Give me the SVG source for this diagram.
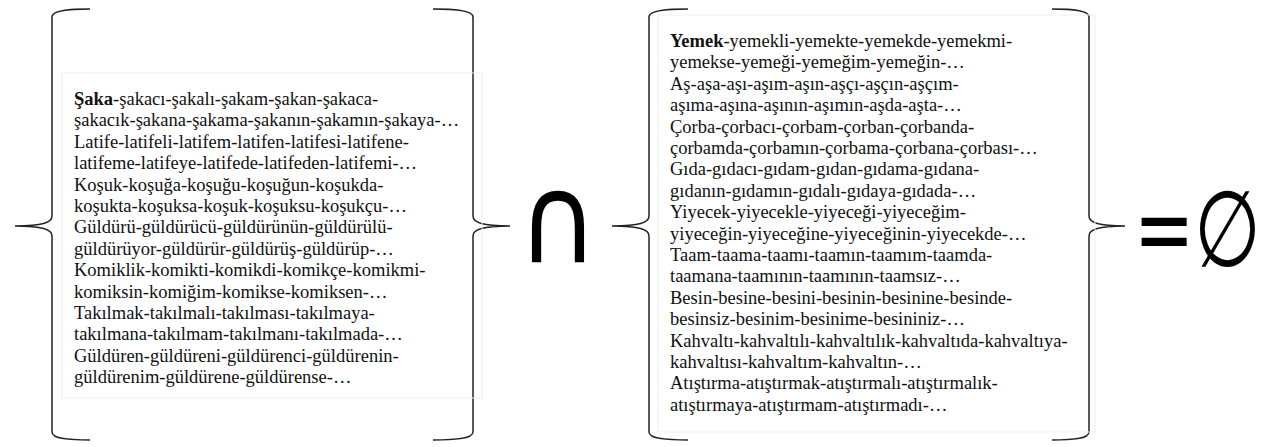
<svg xmlns="http://www.w3.org/2000/svg" width="1270" height="447" viewBox="0 0 1270 447">
  <style>
    .brace { fill: none; stroke: #222; stroke-width: 1.5; }
    .box { fill: none; stroke: #efefef; stroke-width: 1; }
    .words { font-family: "Liberation Serif", "Times New Roman", serif; font-size: 18.5px; fill: #111; }
    .words .head { font-weight: bold; }
    .sym { font-family: "DejaVu Sans", sans-serif; fill: #000; }
  </style>
  <rect width="1270" height="447" fill="#fff"/>

  <!-- braces around the two word sets -->
  <g id="braces">
    <!-- left set, opening brace -->
    <path class="brace" d="M90,9 C70,9 52,10 52,17 L52,216 C52,223 42,225.5 15,226 C42,226.5 52,229 52,236 L52,432 C52,439 70,440 90,440"/>
    <!-- left set, closing brace -->
    <path class="brace" d="M433,9 C453,9 473,10 473,17 L473,216 C473,223 483,225.5 510,226 C483,226.5 473,229 473,236 L473,432 C473,439 453,440 433,440"/>
    <!-- right set, opening brace -->
    <path class="brace" d="M688,9 C668,9 649,10 649,17 L649,216 C649,223 639,225.5 612,226 C639,226.5 649,229 649,236 L649,432 C649,439 668,440 688,440"/>
    <!-- right set, closing brace -->
    <path class="brace" d="M1052,9 C1072,9 1089,10 1089,17 L1089,216 C1089,223 1099,225.5 1125,226 C1099,226.5 1089,229 1089,236 L1089,432 C1089,439 1072,440 1052,440"/>
  </g>

  <!-- left word set -->
  <g id="set-saka">
    <rect class="box" x="62" y="73" width="420" height="325"/>
    <text class="words" x="74" y="105">
      <tspan x="74" y="105"><tspan class="head">Şaka</tspan>-şakacı-şakalı-şakam-şakan-şakaca-</tspan>
      <tspan x="74" dy="21.4">şakacık-şakana-şakama-şakanın-şakamın-şakaya-…</tspan>
      <tspan x="74" dy="21.4">Latife-latifeli-latifem-latifen-latifesi-latifene-</tspan>
      <tspan x="74" dy="21.4">latifeme-latifeye-latifede-latifeden-latifemi-…</tspan>
      <tspan x="74" dy="21.4">Koşuk-koşuğa-koşuğu-koşuğun-koşukda-</tspan>
      <tspan x="74" dy="21.4">koşukta-koşuksa-koşuk-koşuksu-koşukçu-…</tspan>
      <tspan x="74" dy="21.4">Güldürü-güldürücü-güldürünün-güldürülü-</tspan>
      <tspan x="74" dy="21.4">güldürüyor-güldürür-güldürüş-güldürüp-…</tspan>
      <tspan x="74" dy="21.4">Komiklik-komikti-komikdi-komikçe-komikmi-</tspan>
      <tspan x="74" dy="21.4">komiksin-komiğim-komikse-komiksen-…</tspan>
      <tspan x="74" dy="21.4">Takılmak-takılmalı-takılması-takılmaya-</tspan>
      <tspan x="74" dy="21.4">takılmana-takılmam-takılmanı-takılmada-…</tspan>
      <tspan x="74" dy="21.4">Güldüren-güldüreni-güldürenci-güldürenin-</tspan>
      <tspan x="74" dy="21.4">güldürenim-güldürene-güldürense-…</tspan>
    </text>
  </g>

  <!-- intersection sign -->
  <g id="op-intersection">
    <text class="sym" transform="translate(558,262) scale(1,1.12)" font-size="110" text-anchor="middle">∩</text>
  </g>

  <!-- right word set -->
  <g id="set-yemek">
    <rect class="box" x="658" y="15" width="437" height="417"/>
    <text class="words" x="670" y="47">
      <tspan x="670" y="47"><tspan class="head">Yemek</tspan>-yemekli-yemekte-yemekde-yemekmi-</tspan>
      <tspan x="670" dy="21.4">yemekse-yemeği-yemeğim-yemeğin-…</tspan>
      <tspan x="670" dy="21.4">Aş-aşa-aşı-aşım-aşın-aşçı-aşçın-aşçım-</tspan>
      <tspan x="670" dy="21.4">aşıma-aşına-aşının-aşımın-aşda-aşta-…</tspan>
      <tspan x="670" dy="21.4">Çorba-çorbacı-çorbam-çorban-çorbanda-</tspan>
      <tspan x="670" dy="21.4">çorbamda-çorbamın-çorbama-çorbana-çorbası-…</tspan>
      <tspan x="670" dy="21.4">Gıda-gıdacı-gıdam-gıdan-gıdama-gıdana-</tspan>
      <tspan x="670" dy="21.4">gıdanın-gıdamın-gıdalı-gıdaya-gıdada-…</tspan>
      <tspan x="670" dy="21.4">Yiyecek-yiyecekle-yiyeceği-yiyeceğim-</tspan>
      <tspan x="670" dy="21.4">yiyeceğin-yiyeceğine-yiyeceğinin-yiyecekde-…</tspan>
      <tspan x="670" dy="21.4">Taam-taama-taamı-taamın-taamım-taamda-</tspan>
      <tspan x="670" dy="21.4">taamana-taamının-taamının-taamsız-…</tspan>
      <tspan x="670" dy="21.4">Besin-besine-besini-besinin-besinine-besinde-</tspan>
      <tspan x="670" dy="21.4">besinsiz-besinim-besinime-besininiz-…</tspan>
      <tspan x="670" dy="21.4">Kahvaltı-kahvaltılı-kahvaltılık-kahvaltıda-kahvaltıya-</tspan>
      <tspan x="670" dy="21.4">kahvaltısı-kahvaltım-kahvaltın-…</tspan>
      <tspan x="670" dy="21.4">Atıştırma-atıştırmak-atıştırmalı-atıştırmalık-</tspan>
      <tspan x="670" dy="21.4">atıştırmaya-atıştırmam-atıştırmadı-…</tspan>
    </text>
  </g>

  <!-- result: empty set -->
  <g id="result-empty">
    <text class="sym" transform="translate(1134,263) scale(0.72,1)" font-size="100">=<tspan font-size="106" dy="3">∅</tspan></text>
  </g>
</svg>
